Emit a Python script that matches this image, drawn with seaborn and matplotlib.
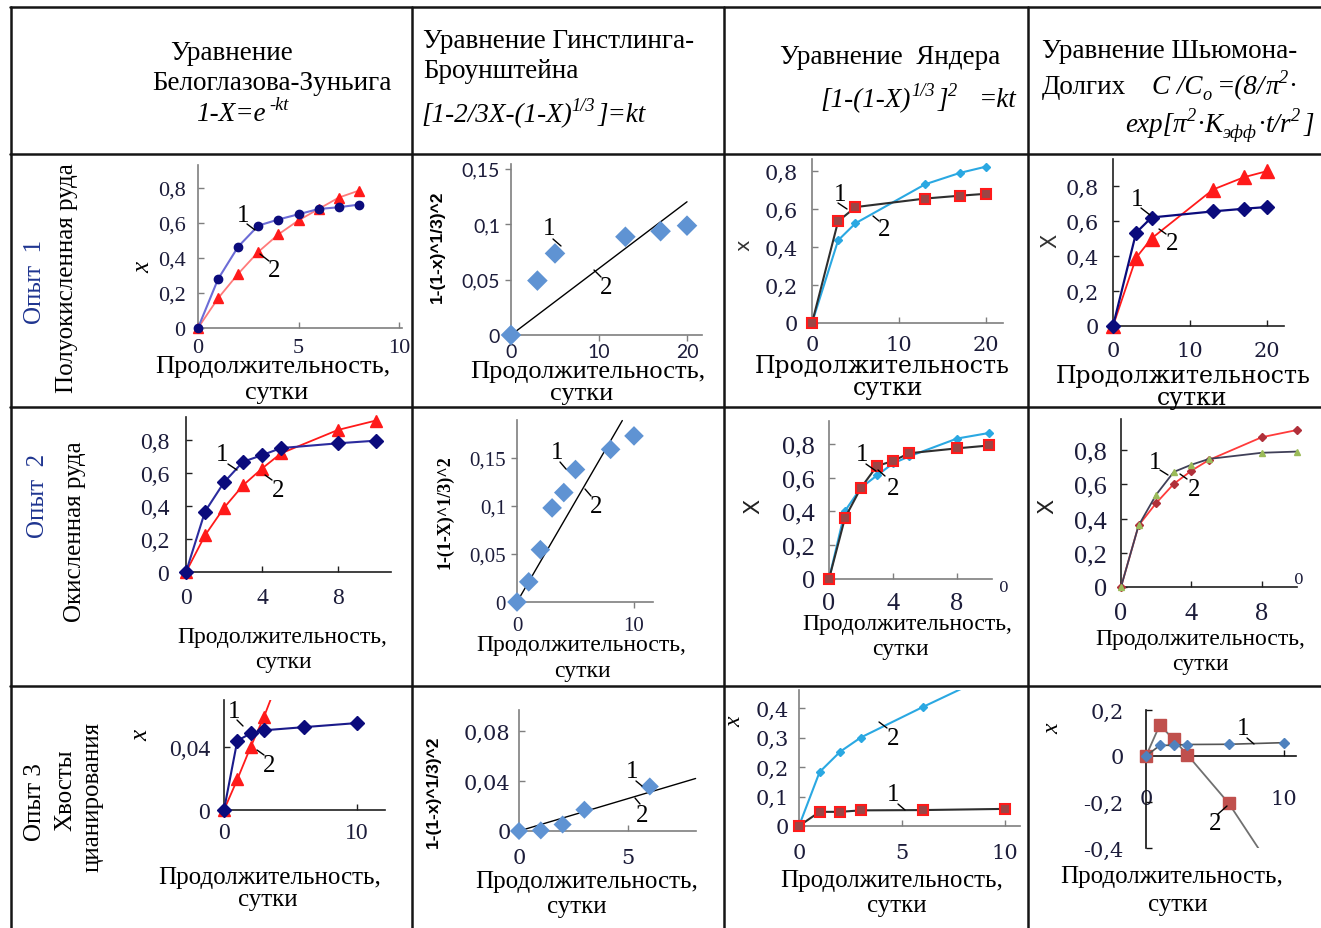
import matplotlib
matplotlib.use("Agg")
import matplotlib.pyplot as plt
import seaborn as sns
from matplotlib.lines import Line2D
from matplotlib.transforms import Bbox, TransformedBbox

# ---------------------------------------------------------------- data
# Опыт 1 (полуокисленная руда)
t1_bz = [0, 1, 2, 3, 4, 5, 6, 7, 8]
bz1_1 = [0, 0.28, 0.465, 0.585, 0.62, 0.65, 0.68, 0.69, 0.705]
bz1_2 = [0, 0.17, 0.31, 0.435, 0.535, 0.615, 0.68, 0.745, 0.785]
t1 = [0, 3, 5, 13, 17, 20]
gb1 = [0, 0.049, 0.0735, 0.0885, 0.0935, 0.0985]
gb1_fit_t = [0, 20]
gb1_fit = [0, 0.12]
ya1_1 = [0, 0.535, 0.61, 0.655, 0.67, 0.68]
ya1_2 = [0, 0.435, 0.525, 0.73, 0.79, 0.823]
sd1_1 = [0, 0.533, 0.62, 0.655, 0.67, 0.68]
sd1_2 = [0, 0.39, 0.50, 0.78, 0.85, 0.885]

# Опыт 2 (окисленная руда)
t2 = [0, 1, 2, 3, 4, 5, 8, 10]
bz2_1 = [0, 0.366, 0.543, 0.668, 0.708, 0.751, 0.78, 0.796]
bz2_2 = [0, 0.222, 0.389, 0.525, 0.627, 0.719, 0.861, 0.918]
gb2 = [0, 0.021, 0.0545, 0.098, 0.114, 0.138, 0.159, 0.173]
gb2_fit_t = [0, 9.0]
gb2_fit = [0, 0.189]
ya2_1 = [0, 0.362, 0.54, 0.669, 0.698, 0.744, 0.773, 0.79]
ya2_2 = [0, 0.403, 0.54, 0.613, 0.684, 0.725, 0.831, 0.864]
sd2_1 = [0, 0.36, 0.54, 0.673, 0.715, 0.749, 0.785, 0.792]
sd2_2 = [0, 0.36, 0.491, 0.603, 0.68, 0.743, 0.876, 0.918]

# Опыт 3 (хвосты цианирования)
t3 = [0, 1, 2, 3, 6, 10]
bz3_1 = [0, 0.044, 0.0486, 0.0506, 0.0526, 0.0552]
bz3_2 = [0, 0.0194, 0.040, 0.059, 0.125]
gb3 = [0, 0.0005, 0.0052, 0.017, 0.0356]
gb3_fit_t = [0, 8.1]
gb3_fit = [0, 0.042]
ya3_1 = [0, 0.048, 0.048, 0.053, 0.054, 0.058]
ya3_2 = [0, 0.183, 0.252, 0.300, 0.403, 0.535]
sd3_1 = [0, 0.046, 0.047, 0.05, 0.051, 0.058]
sd3_2 = [0, 0.135, 0.072, 0.005, -0.206, -0.57]

XLAB1 = "Продолжительность,"
XLAB1b = "Продолжительность"
XLAB2 = "сутки"

# ---------------------------------------------------------------- setup
W, H = 1321, 929
sns.set_style("white")
plt.rcParams.update({
    "font.family": ["Liberation Serif", "DejaVu Serif"],
    "axes.linewidth": 1.2,
})
SERIF = "Liberation Serif"
CAMB = "DejaVu Serif"
SANS = "Lato"
TXT = "#1c1c3a"
NAVY = "#0b0b7c"
RED = "#ff1a1a"
SKY = "#2aa8e2"
STEEL = "#5f93d3"

fig = plt.figure(figsize=(W / 100, H / 100), dpi=100)
fig.patch.set_facecolor("white")
renderer = fig.canvas.get_renderer()


def fx(x):
    return x / W


def fy(y):
    return 1 - y / H


def ftext(x, y, s, **kw):
    kw.setdefault("ha", "center")
    kw.setdefault("va", "center")
    kw.setdefault("color", "black")
    return fig.text(fx(x), fy(y), s, **kw)


def fline(x1, y1, x2, y2, lw=1.0, color="black"):
    fig.add_artist(Line2D([fx(x1), fx(x2)], [fy(y1), fy(y2)], lw=lw,
                          color=color, transform=fig.transFigure))


def rich(x, base, pieces, size, align="left"):
    """Formula line built from runs of text: (text, kind[, italic])."""
    px = size * 100 / 72
    shift = {"b": 0.0, "sup": -0.40 * px, "sub": 0.22 * px}
    cur, items = x, []
    for p in pieces:
        s, kind = p[0], p[1]
        if kind == "gap":
            cur += s
            continue
        italic = p[2] if len(p) > 2 else True
        fs = size if kind == "b" else size * 0.68
        t = fig.text(fx(cur), fy(base + shift[kind]), s, fontsize=fs,
                     family=SERIF, style="italic" if italic else "normal",
                     ha="left", va="baseline", color="black")
        cur += t.get_window_extent(renderer).width
        items.append(t)
    total = cur - x
    dx = {"left": 0.0, "center": -total / 2, "right": -total}[align]
    for t in items:
        a, b = t.get_position()
        t.set_position((a + dx / W, b))


def panel(x0, xpu, xmax, y0, ypu, ymin, ymax):
    left, right = x0, x0 + xmax * xpu
    top, bottom = y0 - ymax * ypu, y0 - ymin * ypu
    ax = fig.add_axes([fx(left), fy(bottom), (right - left) / W, (bottom - top) / H])
    ax.set_xlim(0, xmax)
    ax.set_ylim(ymin, ymax)
    ax.patch.set_alpha(0)
    for s in ("top", "right"):
        ax.spines[s].set_visible(False)
    return ax


def fmt(v):
    return f"{v:g}".replace(".", ",")


def style(ax, xt, yt, family, size, color="#7f7f7f", direction="in",
          xpad=6, ypad=6, lw=1.2):
    ax.set_xticks(xt)
    ax.set_yticks(yt)
    ax.set_xticklabels([fmt(v) for v in xt], family=family, fontsize=size, color=TXT)
    ax.set_yticklabels([fmt(v) for v in yt], family=family, fontsize=size, color=TXT)
    ax.tick_params(bottom=True, left=True, direction=direction, length=4,
                   width=1, color=color)
    ax.tick_params(axis="x", pad=xpad)
    ax.tick_params(axis="y", pad=ypad)
    for s in ("left", "bottom"):
        ax.spines[s].set_color(color)
        ax.spines[s].set_linewidth(lw)


def series(ax, x, y, color, marker, ms, lw, mfc=None, mec=None, mew=1.0,
           clip=None, z=3):
    n = len(ax.lines)
    sns.lineplot(x=x, y=y, ax=ax, color=color, marker=marker, markersize=ms,
                 lw=lw, markerfacecolor=mfc or color, markeredgecolor=mec or color,
                 markeredgewidth=mew, estimator=None, sort=False, legend=False,
                 zorder=z)
    for ln in ax.lines[n:]:
        if clip is None:
            ln.set_clip_on(False)
        else:
            ln.set_clip_box(TransformedBbox(Bbox.from_extents(*clip), ax.transAxes))


def diamonds(ax, x, y, s):
    sns.scatterplot(x=x, y=y, ax=ax, marker="D", s=s, color=STEEL,
                    edgecolor="none", legend=False, zorder=4, clip_on=False)


def fit(ax, x, y):
    n = len(ax.lines)
    sns.lineplot(x=x, y=y, ax=ax, color="black", lw=1.0, estimator=None,
                 sort=False, legend=False, zorder=3)
    for ln in ax.lines[n:]:
        ln.set_clip_on(False)


def tag(s, x, y, lx1, ly1, lx2, ly2, size=18):
    ftext(x, y, s, family=SERIF, fontsize=size)
    fline(lx1, ly1, lx2, ly2, lw=1.0)


def xlab(c1, y1, c2, y2, s1, family=SERIF, size=18):
    ftext(c1, y1, s1, family=family, fontsize=size)
    ftext(c2, y2, XLAB2, family=family, fontsize=size)


# ---------------------------------------------------------------- table grid
GRID = "#151515"
for y in (8, 155, 408, 687):
    fline(10, y, 1321, y, lw=1.8, color=GRID)
for x in (11, 412, 724, 1028):
    fline(x, 8, x, 929, lw=1.8, color=GRID)

# ---------------------------------------------------------------- header
HS = 19.5
ftext(232, 53, "Уравнение", family=SERIF, fontsize=HS)
ftext(272, 84, "Белоглазова-Зуньига", family=SERIF, fontsize=HS)
rich(242, 121, [("1-X=e", "b"), (4, "gap"), ("-kt", "sup")], HS, "center")

ftext(423, 42, "Уравнение Гинстлинга-", family=SERIF, fontsize=HS, ha="left")
ftext(423, 72, "Броунштейна", family=SERIF, fontsize=HS, ha="left")
rich(421, 122, [("[1-2/3X-(1-X)", "b"), ("1/3", "sup"), (2, "gap"),
                ("]=kt", "b")], HS)

ftext(890, 57, "Уравнение  Яндера", family=SERIF, fontsize=HS)
rich(1017, 107, [("[1-(1-X)", "b"), ("1/3", "sup"), (3, "gap"), ("]", "b"),
                 ("2", "sup"), (22, "gap"), ("=kt", "b")], HS, "right")

ftext(1042, 52, "Уравнение Шьюмона-", family=SERIF, fontsize=HS, ha="left")
rich(1042, 94, [("Долгих", "b", False), (26, "gap"), ("C /C", "b"), ("o", "sub"),
                (5, "gap"), ("=(8/", "b"), ("π", "b"), ("2", "sup"), ("·", "b", False)],
     HS)
rich(1314, 132, [("exp[", "b"), ("π", "b"), ("2", "sup"), ("·", "b", False),
                 ("K", "b"), ("эфф", "sub"), ("·", "b", False), ("t/r", "b"),
                 ("2", "sup"), (3, "gap"), ("]", "b")], HS, "right")

# ---------------------------------------------------------------- row labels
RS = 18
ftext(35, 282, "Опыт  1", family=SERIF, fontsize=RS, rotation=90, color="#1f3590")
ftext(67, 278, "Полуокисленная руда", family=SERIF, fontsize=RS, rotation=90)
ftext(38, 496, "Опыт  2", family=SERIF, fontsize=RS, rotation=90, color="#1f3590")
ftext(75, 532, "Окисленная руда", family=SERIF, fontsize=RS, rotation=90)
ftext(35, 802, "Опыт 3", family=SERIF, fontsize=RS, rotation=90)
ftext(65, 790, "Хвосты", family=SERIF, fontsize=RS, rotation=90)
ftext(93, 797, "цианирования", family=SERIF, fontsize=RS, rotation=90)

# ================================================================ row 1
# Белоглазова-Зуньига
ax = panel(198, 20.1, 10.15, 329, 175, 0, 0.93)
style(ax, [0, 5, 10], [0, 0.2, 0.4, 0.6, 0.8], SERIF, 16, ypad=9, xpad=7)
series(ax, t1_bz, bz1_2, "#ff7a7a", "^", 7, 1.3, mfc=RED, mec=RED)
series(ax, t1_bz, bz1_1, "#6c6cd6", "o", 6, 1.5, mfc=NAVY, mec=NAVY)
ftext(143, 267, "x", family=SERIF, fontsize=18, style="italic", rotation=90)
tag("1", 243, 216, 247, 225, 255, 231)
tag("2", 274, 271, 269, 262, 260, 255)
xlab(273, 367, 277, 393, XLAB1, size=19)

# Гинстлинга-Броунштейна
ax = panel(511, 8.8, 21.7, 336, 1110, 0, 0.1545)
style(ax, [0, 10, 20], [0, 0.05, 0.1, 0.15], SANS, 14, direction="out",
      ypad=4, xpad=2)
fit(ax, gb1_fit_t, gb1_fit)
diamonds(ax, t1, gb1, 110)
ftext(437, 247, "1-(1-x)^1/3)^2", family="Liberation Sans", fontsize=12.5,
      weight="bold", rotation=90)
tag("1", 549, 229, 553, 240, 561, 247)
tag("2", 606, 288, 601, 278, 594, 271)
xlab(588, 372, 582, 394, XLAB1, size=19)

# Яндера
ax = panel(812, 8.7, 22, 324, 190, 0, 0.863)
style(ax, [0, 10, 20], [0, 0.2, 0.4, 0.6, 0.8], CAMB, 15, ypad=10, xpad=9)
series(ax, t1, ya1_2, SKY, "D", 4, 1.5)
series(ax, t1, ya1_1, "#2e2e2e", "s", 7, 1.5, mfc="#9b4545", mec=RED, mew=1.5)
ftext(744, 245, "x", family="DejaVu Sans", fontsize=14, rotation=90, color="#333")
tag("1", 840, 195, 838, 204, 847, 210)
tag("2", 884, 230, 879, 222, 873, 217)
xlab(882, 367, 888, 389, XLAB1b, family=CAMB, size=17)

# Шьюмона-Долгих
ax = panel(1113, 7.7, 22.25, 327, 175, 0, 0.956)
style(ax, [0, 10, 20], [0, 0.2, 0.4, 0.6, 0.8], CAMB, 15, color="#202020",
      ypad=10, xpad=11)
series(ax, t1, sd1_2, RED, "^", 10, 1.3)
series(ax, t1, sd1_1, NAVY, "D", 7, 1.6)
ftext(1050, 241, "X", family="DejaVu Sans", fontsize=15, rotation=90, color="#333")
tag("1", 1137, 200, 1141, 209, 1150, 216)
tag("2", 1172, 244, 1166, 235, 1159, 230)
xlab(1183, 377, 1192, 399, XLAB1b, family=CAMB, size=17)

# ================================================================ row 2
ax = panel(186, 19, 10.8, 573, 165, 0, 0.942)
style(ax, [0, 4, 8], [0, 0.2, 0.4, 0.6, 0.8], SERIF, 17, color="#202020",
      ypad=12, xpad=11)
series(ax, t2, bz2_2, RED, "^", 9, 1.3)
series(ax, t2, bz2_1, "#2b2b9e", "D", 7, 1.5, mfc=NAVY, mec=NAVY)
tag("1", 222, 455, 228, 465, 237, 471)
tag("2", 278, 491, 272, 481, 265, 476)
xlab(282, 638, 283, 663, XLAB1, size=17)

ax = panel(517, 11.7, 11.6, 603, 960, 0, 0.19)
style(ax, [0, 10], [0, 0.05, 0.1, 0.15], SERIF, 15, direction="out",
      ypad=4, xpad=6)
fit(ax, gb2_fit_t, gb2_fit)
diamonds(ax, t2, gb2, 100)
ftext(445, 512, "1-(1-X)^1/3)^2", family=SERIF, fontsize=13, weight="bold",
      rotation=90)
tag("1", 557, 453, 560, 463, 566, 470)
tag("2", 596, 507, 591, 497, 585, 490)
xlab(581, 646, 582, 671, XLAB1, size=17)

ax = panel(829, 16, 10.2, 580, 169, 0, 0.935)
style(ax, [0, 4, 8], [0, 0.2, 0.4, 0.6, 0.8], SERIF, 19, ypad=10, xpad=9)
series(ax, t2, ya2_2, SKY, "D", 4, 1.5)
series(ax, t2, ya2_1, "#2e2e2e", "s", 7, 1.5, mfc="#9b4545", mec=RED, mew=1.5)
ftext(753, 506, "X", family="DejaVu Sans", fontsize=16, rotation=90, color="#222")
ftext(1004, 588, "0", family=CAMB, fontsize=11, color=TXT)
tag("1", 862, 455, 866, 465, 876, 472)
tag("2", 893, 489, 885, 477, 878, 471)
xlab(907, 625, 900, 650, XLAB1, size=17)

ax = panel(1121, 17.6, 10, 588, 171, 0, 0.98)
style(ax, [0, 4, 8], [0, 0.2, 0.4, 0.6, 0.8], SERIF, 19, color="#202020",
      ypad=10, xpad=11)
series(ax, t2, sd2_2, "#ff3b3b", "D", 4, 1.3, mfc="#b0303a", mec="#b0303a")
series(ax, t2, sd2_1, "#404058", "^", 5, 1.3, mfc="#9bbb59", mec="#9bbb59")
ftext(1047, 506, "X", family="DejaVu Sans", fontsize=16, rotation=90, color="#222")
ftext(1299, 580, "0", family=CAMB, fontsize=11, color=TXT)
tag("1", 1155, 463, 1160, 471, 1168, 476)
tag("2", 1194, 490, 1187, 480, 1180, 475)
xlab(1200, 640, 1200, 665, XLAB1, size=17)

# ================================================================ row 3
ax = panel(224, 13.3, 12.1, 811, 1575, 0, 0.07)
style(ax, [0, 10], [0, 0.04], SERIF, 17, color="#202020", ypad=10, xpad=9)
series(ax, t3[:len(bz3_2)], bz3_2, RED, "^", 9, 1.3, clip=(-0.2, -0.2, 1.2, 1.0))
series(ax, t3, bz3_1, "#1a1a8a", "D", 7, 1.5, mfc=NAVY, mec=NAVY)
ftext(141, 735, "x", family=SERIF, fontsize=18, style="italic", rotation=90)
tag("1", 234, 712, 237, 721, 243, 727)
tag("2", 269, 766, 264, 756, 257, 751)
xlab(270, 878, 268, 900, XLAB1, size=18)

ax = panel(519, 21.8, 8.1, 832, 1250, 0, 0.0967)
style(ax, [0, 5], [0, 0.04, 0.08], CAMB, 15, ypad=6, xpad=12)
fit(ax, gb3_fit_t, gb3_fit)
diamonds(ax, t3[:len(gb3)], gb3, 85)
ftext(433, 792, "1-(1-x)^1/3)^2", family="Liberation Sans", fontsize=12.5,
      weight="bold", rotation=90)
tag("1", 632, 772, 636, 782, 642, 787)
tag("2", 642, 816, 640, 805, 635, 799)
xlab(587, 882, 577, 907, XLAB1, size=18)

ax = panel(799, 20.6, 10.75, 827, 295, 0, 0.46)
style(ax, [0, 5, 10], [0, 0.1, 0.2, 0.3, 0.4], CAMB, 15, ypad=7, xpad=12)
series(ax, t3, ya3_2, SKY, "D", 4, 1.5, clip=(-0.2, -0.2, 1.2, 1.0))
series(ax, t3, ya3_1, "#2e2e2e", "s", 7, 1.5, mfc="#9b4545", mec=RED, mew=1.5)
ftext(735, 722, "x", family=SERIF, fontsize=17, style="italic", rotation=90)
tag("2", 893, 739, 887, 729, 879, 723)
tag("1", 893, 795, 898, 805, 905, 811)
xlab(892, 881, 897, 906, XLAB1, size=18)

ax = panel(1146, 13.8, 10.9, 757, 230, -0.4, 0.2)
ax.spines["bottom"].set_position(("data", 0))
style(ax, [0, 10], [-0.4, -0.2, 0, 0.2], CAMB, 15, color="#111111",
      ypad=16, xpad=24)
series(ax, t3, sd3_2, "#707070", "s", 8, 1.3, mfc="#c0504d", mec="#c0504d",
       clip=(-0.2, 0.0, 1.2, 1.2))
series(ax, t3, sd3_1, "#555555", "D", 5, 1.2, mfc="#4f81bd", mec="#4f81bd")
ftext(1053, 729, "x", family=SERIF, fontsize=17, style="italic", rotation=90)
tag("1", 1243, 729, 1247, 739, 1254, 745)
tag("2", 1215, 824, 1218, 815, 1227, 807)
xlab(1172, 877, 1178, 905, XLAB1, size=18)

fig.savefig("out.png", dpi=100, facecolor="white")
